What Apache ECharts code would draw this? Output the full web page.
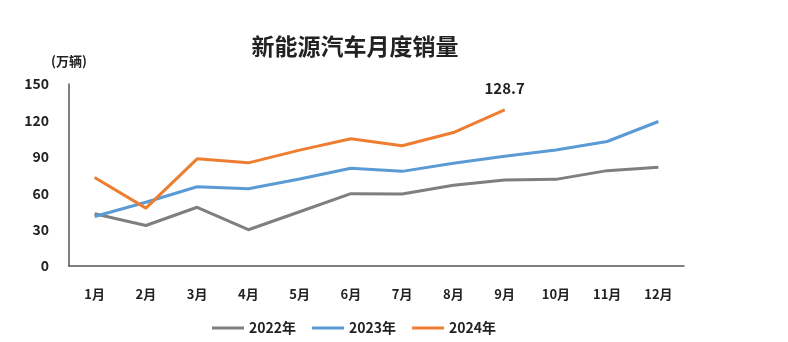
<!DOCTYPE html>
<html>
<head>
<meta charset="utf-8">
<style>html,body{margin:0;padding:0;background:#fff;}#c{width:788px;height:342px;}</style>
<script src="https://cdn.jsdelivr.net/npm/echarts@6/dist/echarts.min.js"></script>
</head>
<body>
<div id="c"></div>
<script>
var categories = ['1月','2月','3月','4月','5月','6月','7月','8月','9月','10月','11月','12月'];
var yTicks = [0, 30, 60, 90, 120, 150];
var sales2022 = [43.1, 33.4, 48.4, 29.9, 44.7, 59.6, 59.3, 66.6, 70.8, 71.4, 78.6, 81.4];
var sales2023 = [40.8, 52.5, 65.3, 63.6, 71.7, 80.6, 78.0, 84.6, 90.4, 95.6, 102.6, 119.1];
var sales2024 = [72.9, 47.7, 88.3, 85.0, 95.5, 104.9, 99.1, 110.0, 128.7];
var seriesNames = ['2022年', '2023年', '2024年'];

var chart = echarts.init(document.getElementById('c'));
var font = 'Noto Sans CJK SC';
var last = sales2024.length - 1;
chart.setOption({
  animation: false,
  backgroundColor: '#fff',
  title: {
    text: '新能源汽车月度销量',
    left: 350, top: 30, textAlign: 'center',
    textStyle: { fontFamily: font, fontSize: 23, fontWeight: 'bold', color: '#222' }
  },
  grid: { left: 69, right: 104, top: 84, bottom: 76 },
  legend: {
    data: seriesNames,
    top: 316, left: 207,
    icon: 'rect', itemWidth: 32, itemHeight: 3, itemGap: 16,
    textStyle: { fontFamily: font, fontSize: 14, fontWeight: 'bold', color: '#222' }
  },
  xAxis: {
    type: 'category', data: categories, boundaryGap: true,
    axisLine: { lineStyle: { color: '#555', width: 1.5 } },
    axisTick: { show: false },
    axisLabel: { margin: 22, fontFamily: font, fontSize: 13, fontWeight: 'bold', color: '#222' }
  },
  yAxis: {
    type: 'value', min: yTicks[0], max: yTicks[yTicks.length - 1], interval: 30,
    name: '(万辆)', nameLocation: 'end', nameGap: 16,
    nameTextStyle: { fontFamily: font, fontSize: 13, fontWeight: 'bold', color: '#222', align: 'center' },
    axisLine: { show: true, lineStyle: { color: '#555', width: 1.5 } },
    axisTick: { show: false },
    splitLine: { show: false },
    axisLabel: { margin: 20, fontFamily: font, fontSize: 14, fontWeight: 'bold', color: '#222' }
  },
  series: [
    { name: seriesNames[0], type: 'line', data: sales2022, symbol: 'none', lineStyle: { color: '#7f7f7f', width: 3 }, itemStyle: { color: '#7f7f7f' } },
    { name: seriesNames[1], type: 'line', data: sales2023, symbol: 'none', lineStyle: { color: '#5b9bd5', width: 3 }, itemStyle: { color: '#5b9bd5' } },
    { name: seriesNames[2], type: 'line', symbol: 'none', lineStyle: { color: '#ed7d31', width: 3 }, itemStyle: { color: '#ed7d31' },
      data: sales2024.map(function (v, i) {
        return i === last ? {
          value: v, symbol: 'circle', symbolSize: 1,
          label: { show: true, position: 'top', distance: 14, formatter: String(v), fontFamily: font, fontSize: 15, fontWeight: 'bold', color: '#222' }
        } : v;
      })
    }
  ]
});
</script>
</body>
</html>
